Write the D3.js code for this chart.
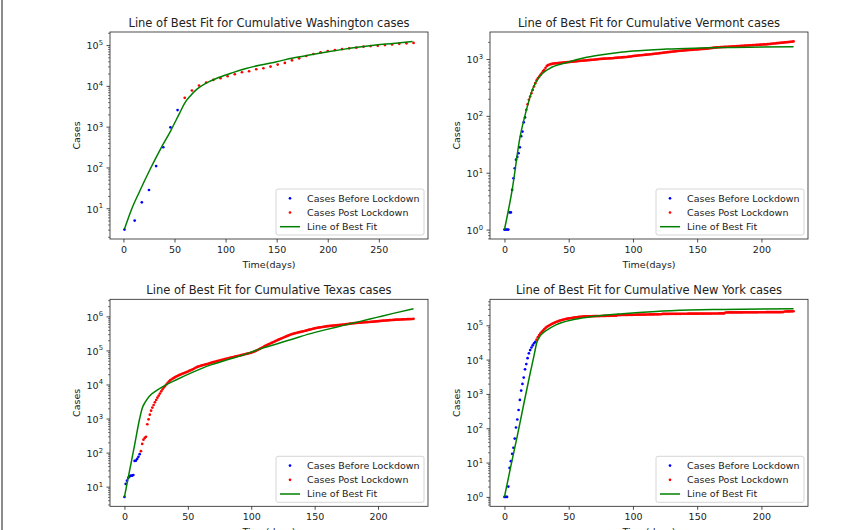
<!DOCTYPE html>
<html>
<head>
<meta charset="utf-8">
<script src="https://cdn.jsdelivr.net/npm/d3@7"></script>
<style>
  body { margin: 0; background: #fff; }
  svg { display: block; }
</style>
</head>
<body>
<svg class="svg"></svg>
<script>
// Washington, weekly points
const waBeforeDays = [1, 11, 18, 25, 32, 39, 46, 53];
const waBefore = [3, 5, 14, 28, 108, 313, 964, 2550];
const waPostDays = [60, 67, 74, 81, 88, 95, 102, 109, 116, 123, 130, 137, 144, 151, 158, 165, 172,
    179, 186, 193, 200, 207, 214, 221, 228, 235, 242, 249, 256, 263, 270, 277, 284];
const waPost = [5090, 7690, 10190, 12060, 13990, 15380, 17210, 19270, 21540, 22800, 25520, 26990,
    29630, 33140, 36410, 42290, 47320, 53950, 60340, 66260, 71430, 75510, 79800, 82940, 86100,
    91030, 94540, 96330, 100000, 103800, 107000, 110500, 112500];
const waFitDays = [1, 8, 16, 26, 36, 46, 55, 60, 65, 72, 81, 94, 107, 120, 133, 150, 166, 182, 199,
    215, 231, 247, 264, 283];
const waFit = [3.1, 9.5, 26.5, 89, 275, 770, 2150, 3780, 5500, 8300, 11600, 16300, 21100, 26500,
    31900, 39200, 48200, 57000, 67400, 78300, 89400, 100000, 109800, 122800];

// Vermont, daily
const vtBeforeStart = 0;
const vtBefore = [1, 1, 1, 1, 2, 2, 5, 8, 12, 17, 19, 22, 28, 44, 53, 77, 94];
const vtPostStart = 17;
const vtPost = [128, 160, 192, 219, 250, 285, 330, 376, 420, 459,
    490, 525, 560, 610, 643, 700, 755, 780, 800, 812,
    820, 830, 836, 840, 845, 850, 855, 860, 862, 866,
    870, 875, 880, 885, 890, 895, 898, 902, 907, 912,
    917, 923, 928, 932, 935, 940, 944, 950, 955, 958,
    962, 966, 970, 975, 981, 987, 993, 1000, 1005, 1008,
    1012, 1015, 1019, 1022, 1025, 1028, 1030, 1032, 1038, 1043,
    1049, 1055, 1059, 1063, 1067, 1072, 1076, 1080, 1084, 1092,
    1100, 1108, 1117, 1125, 1132, 1140, 1146, 1153, 1160, 1165,
    1170, 1176, 1183, 1190, 1196, 1201, 1207, 1214, 1222, 1229,
    1237, 1244, 1251, 1260, 1268, 1276, 1285, 1293, 1301, 1309,
    1317, 1326, 1334, 1343, 1350, 1358, 1366, 1374, 1384, 1392,
    1397, 1404, 1410, 1417, 1423, 1428, 1434, 1440, 1447, 1452,
    1458, 1463, 1469, 1475, 1482, 1488, 1494, 1500, 1507, 1512,
    1517, 1528, 1538, 1549, 1560, 1570, 1581, 1590, 1600, 1604,
    1609, 1614, 1619, 1624, 1629, 1634, 1638, 1643, 1648, 1653,
    1659, 1664, 1670, 1676, 1682, 1687, 1693, 1699, 1705, 1711,
    1717, 1723, 1729, 1735, 1741, 1747, 1752, 1758, 1764, 1770,
    1776, 1782, 1788, 1794, 1799, 1804, 1810, 1816, 1826, 1836,
    1846, 1856, 1866, 1876, 1886, 1896, 1906, 1916, 1926, 1936,
    1946, 1956, 1966, 1977, 1988, 1999, 2011, 2024, 2040];
const vtFitDays = [0, 6, 12, 17, 22, 27, 35, 48, 64, 80, 100, 126, 152, 178, 225];
const vtFit = [1, 5, 41, 125, 300, 480, 680, 860, 1070, 1220, 1380, 1495, 1557, 1600, 1640];

// Texas, daily
const txBeforeStart = 0;
const txBefore = [5, 12, 15, 18, 20, 21, 21, 22, 57, 58, 65, 75, 90];
const txPostStart = 13;
const txPost = [110, 180, 240, 270, 290, 680, 950, 1300, 1700, 2100,
    2500, 3000, 3500, 4100, 4700, 5400, 6300, 7200, 8100, 9000,
    10000, 11000, 12200, 13200, 14000, 14800, 15600, 16500, 17300, 18000,
    18800, 19500, 20200, 20900, 21700, 22400, 23100, 24000, 25000, 26000,
    27000, 28000, 29500, 31000, 32300, 33300, 34300, 35300, 36200, 37100,
    38000, 38800, 39700, 40700, 41800, 43000, 44100, 45200, 46200, 47300,
    48400, 49500, 50600, 51800, 53000, 54200, 55400, 56600, 57800, 59000,
    60200, 61500, 62800, 64100, 65500, 66900, 68300, 69700, 71100, 72600,
    74000, 75600, 77200, 78800, 80500, 82300, 84200, 86200, 88500, 91500,
    95000, 99000, 103000, 108000, 113000, 118000, 124000, 130000, 136000, 142000,
    148000, 154000, 160000, 166000, 173000, 180000, 188000, 195000, 203000, 211000,
    219000, 227000, 235000, 244000, 253000, 262000, 272000, 282000, 292000, 300000,
    308000, 316000, 323000, 330000, 337000, 344000, 351000, 357000, 363000, 372000,
    381000, 390000, 399000, 408000, 417000, 426000, 436000, 446000, 455000, 462000,
    468000, 474000, 480000, 487000, 494000, 501000, 508000, 515000, 520000, 525000,
    529000, 533000, 537000, 541000, 546000, 551000, 556000, 561000, 566000, 571000,
    577000, 583000, 589000, 596000, 603000, 610000, 617000, 624000, 630000, 635000,
    640000, 645000, 650000, 654000, 659000, 664000, 669000, 673000, 677000, 681000,
    685000, 690000, 695000, 700000, 706000, 712000, 718000, 724000, 730000, 736000,
    742000, 748000, 753000, 758000, 763000, 768000, 773000, 778000, 783000, 788000,
    793000, 798000, 802000, 805000, 808000, 811000, 814000, 817000, 820000, 823000,
    826000, 829000, 832000, 835000, 838000, 850000];
const txFitDays = [0, 4, 8, 12, 14, 16.5, 20, 25.5, 32, 41, 54, 67, 81, 94, 107, 120, 133, 146, 159,
    172, 186, 199, 212, 228];
const txFit = [5, 29, 166, 1000, 2000, 3100, 4700, 6700, 9400, 13800, 23000, 36500, 53000, 74200,
    111000, 155000, 218000, 306000, 409000, 535000, 714000, 935000, 1224000, 1680000];

// New York, daily
const nyBeforeStart = 0;
const nyBefore = [1, 1, 1, 2, 7, 11, 18, 27, 50, 105, 180, 340, 670, 1250, 1950, 3000, 5200, 7400,
    11000, 15200, 19000, 22500, 26000, 30000, 33000];
const nyPostStart = 25;
const nyPost = [38000, 45000, 52000, 58000, 64000, 70000, 77000, 84000, 90000, 95000,
    100000, 105000, 110000, 114000, 119000, 124000, 128000, 132000, 136000, 140000,
    144000, 147000, 150000, 153000, 156000, 158000, 160000, 163000, 165000, 167000,
    169000, 171000, 173000, 175000, 177000, 179000, 180000,
    181000, 181400, 181900, 182300, 182600, 183100, 183500, 183800, 184300, 184700,
    185000, 185500, 185800, 186200, 186700, 187000, 187400, 187900, 188200, 188600,
    189000, 189500, 189800, 190200, 190700, 191000,
    198000, 198400, 198700, 199100, 199400, 199800, 200100, 200500, 200800, 201200,
    201500, 201800, 202200, 202500, 202900, 203200, 203500, 203900, 204200, 204600,
    204900, 205200, 205600, 205900, 206300, 206600, 206900, 207300, 207600, 208000,
    208300, 208600, 209000, 209300, 209700,
    214000, 214200, 214400, 214500, 214700, 214900, 215000, 215200, 215400, 215500,
    215700, 215900, 216000, 216200, 216300, 216500, 216700, 216800, 217000, 217100,
    217300, 217500, 217600, 217800, 217900, 218100, 218200, 218400, 218500, 218700,
    218800, 219000, 219100, 219300, 219400, 219600, 219700, 219900, 220000, 220200,
    220300, 220500, 220600, 220800, 220900, 221000, 221200, 221300, 221500,
    236000, 236100, 236300, 236400, 236500, 236700, 236800, 236900, 237100, 237200,
    237300, 237500, 237600, 237700, 237900, 238000, 238100, 238300, 238400, 238500,
    238700, 238800, 238900, 239100, 239200, 239300, 239500, 239600, 239700, 239900,
    240000, 240100, 240300, 240400, 240500, 240700, 240800, 240900, 241100, 241200,
    241300, 241500, 241600, 241700, 241900, 242000,
    251800, 252500, 253100, 253600, 254200, 254900, 255400, 256000];
const nyFitDays = [0, 5, 10, 15, 20, 23, 24, 25, 27, 30, 33, 40, 53, 66, 92, 118, 144, 170, 200, 225];
const nyFit = [1, 8, 60, 500, 4000, 13000, 20000, 30000, 44000, 60000, 72000, 103000, 145000,
    174000, 218000, 254000, 277000, 290000, 298000, 304000];

// tick labels
const xTicksWide = [0, 50, 100, 150, 200, 250];
const xTicksNarrow = [0, 50, 100, 150, 200];
const waYExp = [1, 2, 3, 4, 5];
const vtYExp = [0, 1, 2, 3];
const txYExp = [1, 2, 3, 4, 5, 6];
const nyYExp = [0, 1, 2, 3, 4, 5];
const legendLabels = ["Cases Before Lockdown", "Cases Post Lockdown", "Line of Best Fit"];

const daily = (start, vals) => vals.map((v, i) => [start + i, v]);

const panels = [
    { title: "Line of Best Fit for Cumulative Washington cases", col: 0, row: 0,
      before: d3.zip(waBeforeDays, waBefore), post: d3.zip(waPostDays, waPost),
      fit: d3.zip(waFitDays, waFit), xTicks: xTicksWide, yExp: waYExp },
    { title: "Line of Best Fit for Cumulative Vermont cases", col: 1, row: 0,
      before: daily(vtBeforeStart, vtBefore), post: daily(vtPostStart, vtPost),
      fit: d3.zip(vtFitDays, vtFit), xTicks: xTicksNarrow, yExp: vtYExp },
    { title: "Line of Best Fit for Cumulative Texas cases", col: 0, row: 1,
      before: daily(txBeforeStart, txBefore), post: daily(txPostStart, txPost),
      fit: d3.zip(txFitDays, txFit), xTicks: xTicksNarrow, yExp: txYExp },
    { title: "Line of Best Fit for Cumulative New York cases", col: 1, row: 1,
      before: daily(nyBeforeStart, nyBefore), post: daily(nyPostStart, nyPost),
      fit: d3.zip(nyFitDays, nyFit), xTicks: xTicksNarrow, yExp: nyYExp }
];

const W = 850, H = 530;
const colLeft = [110, 490], rowTop = [32, 299.3];
const plotW = 318, plotH = 207;
const textColor = "#222";
const font = "DejaVu Sans, sans-serif";
const small = 9.5, big = 11.5;

const svg = d3.select(".svg")
    .attr("width", W)
    .attr("height", H)
    .attr("font-family", font);

svg.append("rect").attr("width", W).attr("height", H).attr("fill", "#fff");
// grey edge on the left of the screenshot
svg.append("rect").attr("x", 1).attr("y", 0).attr("width", 2).attr("height", H).attr("fill", "#8c8c8c");

panels.forEach(drawPanel);

function drawPanel(p) {
    const left = colLeft[p.col], top = rowTop[p.row];
    const bottom = top + plotH, right = left + plotW;
    const all = p.before.concat(p.post, p.fit);

    // 5% margins like matplotlib, log margin for y
    const [d0, d1] = d3.extent(all, d => d[0]);
    const xPad = (d1 - d0) * 0.05;
    const x = d3.scaleLinear().domain([d0 - xPad, d1 + xPad]).range([left, right]);

    const [l0, l1] = d3.extent(all, d => Math.log10(d[1]));
    const yPad = (l1 - l0) * 0.05;
    const y = d3.scaleLog().domain([10 ** (l0 - yPad), 10 ** (l1 + yPad)]).range([bottom, top]);

    const g = svg.append("g");

    // x axis
    const xAxis = g.append("g")
        .attr("transform", `translate(0,${bottom})`)
        .call(d3.axisBottom(x).tickValues(p.xTicks).tickSize(3.5).tickPadding(3.5));
    xAxis.select(".domain").remove();
    xAxis.attr("font-family", font).attr("font-size", small);
    xAxis.selectAll("line").attr("stroke", textColor).attr("stroke-width", 0.8);
    xAxis.selectAll("text").attr("fill", textColor);

    // minor log ticks
    const [lo, hi] = y.domain();
    const minors = [];
    for (let k = Math.floor(Math.log10(lo)); k <= Math.ceil(Math.log10(hi)); k++) {
        for (let m = 2; m < 10; m++) {
            const v = m * 10 ** k;
            if (v >= lo && v <= hi) minors.push(v);
        }
    }
    const yMinor = g.append("g")
        .attr("transform", `translate(${left},0)`)
        .call(d3.axisLeft(y).tickValues(minors).tickSize(2).tickFormat(""));
    yMinor.select(".domain").remove();
    yMinor.selectAll("line").attr("stroke", textColor).attr("stroke-width", 0.6);

    // major log ticks with 10^n labels
    const yAxis = g.append("g")
        .attr("transform", `translate(${left},0)`)
        .call(d3.axisLeft(y).tickValues(p.yExp.map(e => 10 ** e)).tickSize(3.5).tickPadding(3.5).tickFormat(""));
    yAxis.select(".domain").remove();
    yAxis.attr("font-family", font).attr("font-size", small);
    yAxis.selectAll("line").attr("stroke", textColor).attr("stroke-width", 0.8);
    yAxis.selectAll(".tick text").each(function (v) {
        const t = d3.select(this).attr("fill", textColor).attr("dy", "0.4em");
        t.append("tspan").text("10");
        t.append("tspan").attr("font-size", 6.8).attr("dy", -4.3).text(Math.round(Math.log10(v)));
    });

    // points and fit
    g.append("g").selectAll("circle")
        .data(p.before)
        .join("circle")
        .attr("cx", d => x(d[0]))
        .attr("cy", d => y(d[1]))
        .attr("r", 1.35)
        .attr("fill", "#0000ff");

    g.append("g").selectAll("circle")
        .data(p.post)
        .join("circle")
        .attr("cx", d => x(d[0]))
        .attr("cy", d => y(d[1]))
        .attr("r", 1.35)
        .attr("fill", "#ff0000");

    const line = d3.line()
        .x(d => x(d[0]))
        .y(d => y(d[1]))
        .curve(d3.curveMonotoneX);

    g.append("path")
        .datum(p.fit)
        .attr("fill", "none")
        .attr("stroke", "#008000")
        .attr("stroke-width", 1.5)
        .attr("d", line);

    // frame
    g.append("rect")
        .attr("x", left)
        .attr("y", top)
        .attr("width", plotW)
        .attr("height", plotH)
        .attr("fill", "none")
        .attr("stroke", textColor)
        .attr("stroke-width", 0.8);

    // labels
    g.append("text")
        .attr("x", (left + right) / 2)
        .attr("y", top - 5.5)
        .attr("text-anchor", "middle")
        .attr("font-size", big)
        .attr("fill", textColor)
        .text(p.title);

    g.append("text")
        .attr("x", (left + right) / 2)
        .attr("y", bottom + 28.5)
        .attr("text-anchor", "middle")
        .attr("font-size", small)
        .attr("fill", textColor)
        .text("Time(days)");

    g.append("text")
        .attr("transform", `translate(${left - 30.5},${(top + bottom) / 2}) rotate(-90)`)
        .attr("text-anchor", "middle")
        .attr("font-size", small)
        .attr("fill", textColor)
        .text("Cases");

    // legend, lower right
    const lg = g.append("g").attr("transform", `translate(${right - 152},${bottom - 50})`);
    lg.append("rect")
        .attr("width", 148)
        .attr("height", 46)
        .attr("rx", 2)
        .attr("fill", "#fff")
        .attr("fill-opacity", 0.8)
        .attr("stroke", "#cccccc")
        .attr("stroke-width", 0.8);

    const rows = lg.selectAll("g.row")
        .data(legendLabels)
        .join("g")
        .attr("class", "row")
        .attr("transform", (d, i) => `translate(0,${9.3 + i * 14.2})`);

    rows.filter((d, i) => i < 2).append("circle")
        .attr("cx", 14)
        .attr("r", 1.35)
        .attr("fill", (d, i) => i === 0 ? "#0000ff" : "#ff0000");

    rows.filter((d, i) => i === 2).append("line")
        .attr("x1", 4)
        .attr("x2", 24)
        .attr("stroke", "#008000")
        .attr("stroke-width", 1.5);

    rows.append("text")
        .attr("x", 31)
        .attr("dy", "0.35em")
        .attr("font-size", small)
        .attr("fill", textColor)
        .text(d => d);
}
</script>
</body>
</html>
